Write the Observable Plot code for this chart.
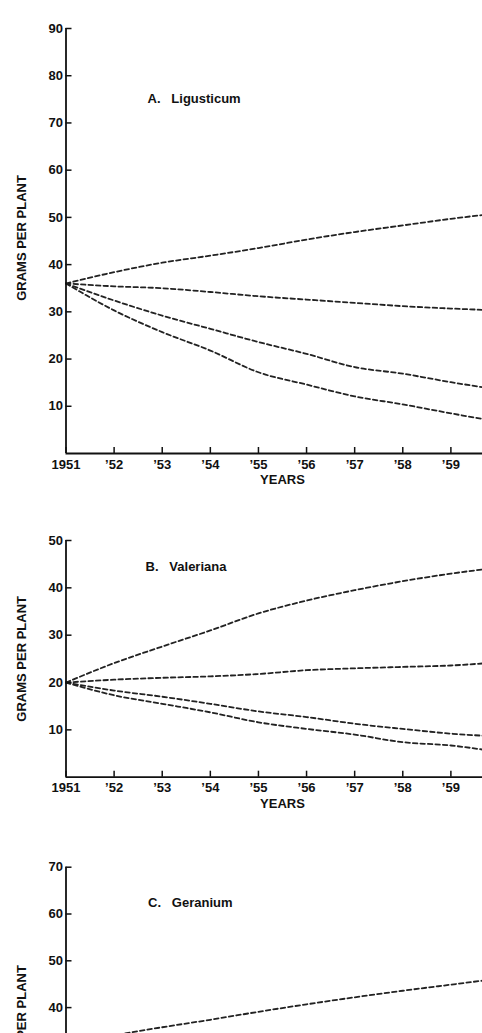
<!DOCTYPE html>
<html><head><meta charset="utf-8">
<script src="https://cdn.jsdelivr.net/npm/d3@7"></script>
<script src="https://cdn.jsdelivr.net/npm/@observablehq/plot@0.6"></script>
<style>
html,body{margin:0;padding:0;background:#fff;overflow:hidden;width:482px;height:1033px}
#chart{width:482px;height:1033px;overflow:hidden}
#chart svg{display:block;overflow:hidden}
</style></head><body><div id="chart"></div>
<script>
const years = [1951, 1952, 1953, 1954, 1955, 1956, 1957, 1958, 1959, 1960];
const yearTicks = [1951, 1952, 1953, 1954, 1955, 1956, 1957, 1958, 1959];
const yearLabels = ["1951", "’52", "’53", "’54", "’55", "’56", "’57", "’58", "’59"];
const yLabel = "GRAMS PER PLANT";
const xLabel = "YEARS";

// A. Ligusticum
const ligA1 = [36, 38.4, 40.4, 41.9, 43.5, 45.3, 46.9, 48.3, 49.7, 50.9];
const ligA2 = [36, 35.4, 35.0, 34.2, 33.3, 32.6, 31.9, 31.2, 30.7, 30.3];
const ligA3 = [36, 32.4, 29.2, 26.4, 23.6, 21.1, 18.3, 16.9, 15.1, 13.5];
const ligA4 = [36, 30.3, 25.7, 21.8, 17.2, 14.6, 12.1, 10.4, 8.5, 6.7];
const ligTicks = [10, 20, 30, 40, 50, 60, 70, 80, 90];

// B. Valeriana
const valB1 = [20, 24.1, 27.6, 31.0, 34.6, 37.3, 39.5, 41.4, 43.0, 44.3];
const valB2 = [20, 20.6, 21.0, 21.3, 21.8, 22.6, 23.0, 23.3, 23.6, 24.3];
const valB3 = [20, 18.3, 17.0, 15.5, 13.9, 12.7, 11.3, 10.2, 9.2, 8.6];
const valB4 = [20, 17.3, 15.5, 13.7, 11.6, 10.2, 9.0, 7.4, 6.7, 5.3];
const valTicks = [10, 20, 30, 40, 50];

// C. Geranium (only the upper line is visible in the crop)
const gerC1 = [32.4, 34.1, 35.8, 37.4, 39.1, 40.7, 42.2, 43.6, 44.9, 46.2];
const gerTicks = [10, 20, 30, 40, 50, 60, 70];

const titles = ["A.   Ligusticum", "B.   Valeriana", "C.   Geranium"];
const yMaxes = [90, 50, 70];

function panel({series, yMax, yTicks, title, height, marginTop, marginBottom, titleDx, titleDy, labelDy = 0, showX = true}) {
  const data = series.flatMap((vals, i) => vals.map((v, j) => ({year: years[j], value: v, line: i})));
  const marks = [
    Plot.line(data, {x: "year", y: "value", z: "line", stroke: "#222", strokeWidth: 1.8, strokeDasharray: "4.5,3", curve: "monotone-x"}),
    Plot.ruleX([1951], {stroke: "#111", strokeWidth: 1.8}),
    Plot.ruleY([0], {stroke: "#111", strokeWidth: 1.8}),
    Plot.axisY({ticks: yTicks, tickSize: -6, tickPadding: 9, strokeWidth: 1.5, label: null}),
    Plot.text([yLabel], {y: () => yMax / 2, frameAnchor: "left", dx: -44, dy: labelDy, rotate: -90, textAnchor: "middle", lineAnchor: "middle"}),
    Plot.text([title], {frameAnchor: "top-left", dx: titleDx, dy: titleDy, textAnchor: "start", lineAnchor: "middle"})
  ];
  if (showX) {
    marks.push(
      Plot.axisX({ticks: yearTicks, tickSize: -6, tickPadding: 12, strokeWidth: 1.5, tickFormat: d => yearLabels[yearTicks.indexOf(d)], label: null}),
      Plot.text([xLabel], {frameAnchor: "bottom", dy: 26.5, textAnchor: "middle", lineAnchor: "middle"})
    );
  }
  return Plot.plot({
    width: 482, height, marginLeft: 65.5, marginRight: -16.5, marginTop, marginBottom,
    style: {fontFamily: "'Liberation Sans', Arial, sans-serif", fontSize: "13px", fontWeight: "bold", color: "#111", background: "#fff", overflow: "hidden"},
    x: {domain: [1951, 1960], axis: showX ? undefined : null},
    y: {domain: [0, yMax]},
    marks
  });
}

const chart = document.getElementById("chart");
chart.append(panel({series: [ligA1, ligA2, ligA3, ligA4], yMax: yMaxes[0], yTicks: ligTicks, title: titles[0], height: 490, marginTop: 28, marginBottom: 37, titleDx: 81.5, titleDy: 70, labelDy: -3}));
chart.append(panel({series: [valB1, valB2, valB3, valB4], yMax: yMaxes[1], yTicks: valTicks, title: titles[1], height: 325, marginTop: 50, marginBottom: 38.3, titleDx: 79.5, titleDy: 26}));
chart.append(panel({series: [gerC1], yMax: yMaxes[2], yTicks: gerTicks, title: titles[2], height: 218, marginTop: 51.7, marginBottom: -161.3, titleDx: 82, titleDy: 35.3, labelDy: -3, showX: false}));
</script></body></html>
